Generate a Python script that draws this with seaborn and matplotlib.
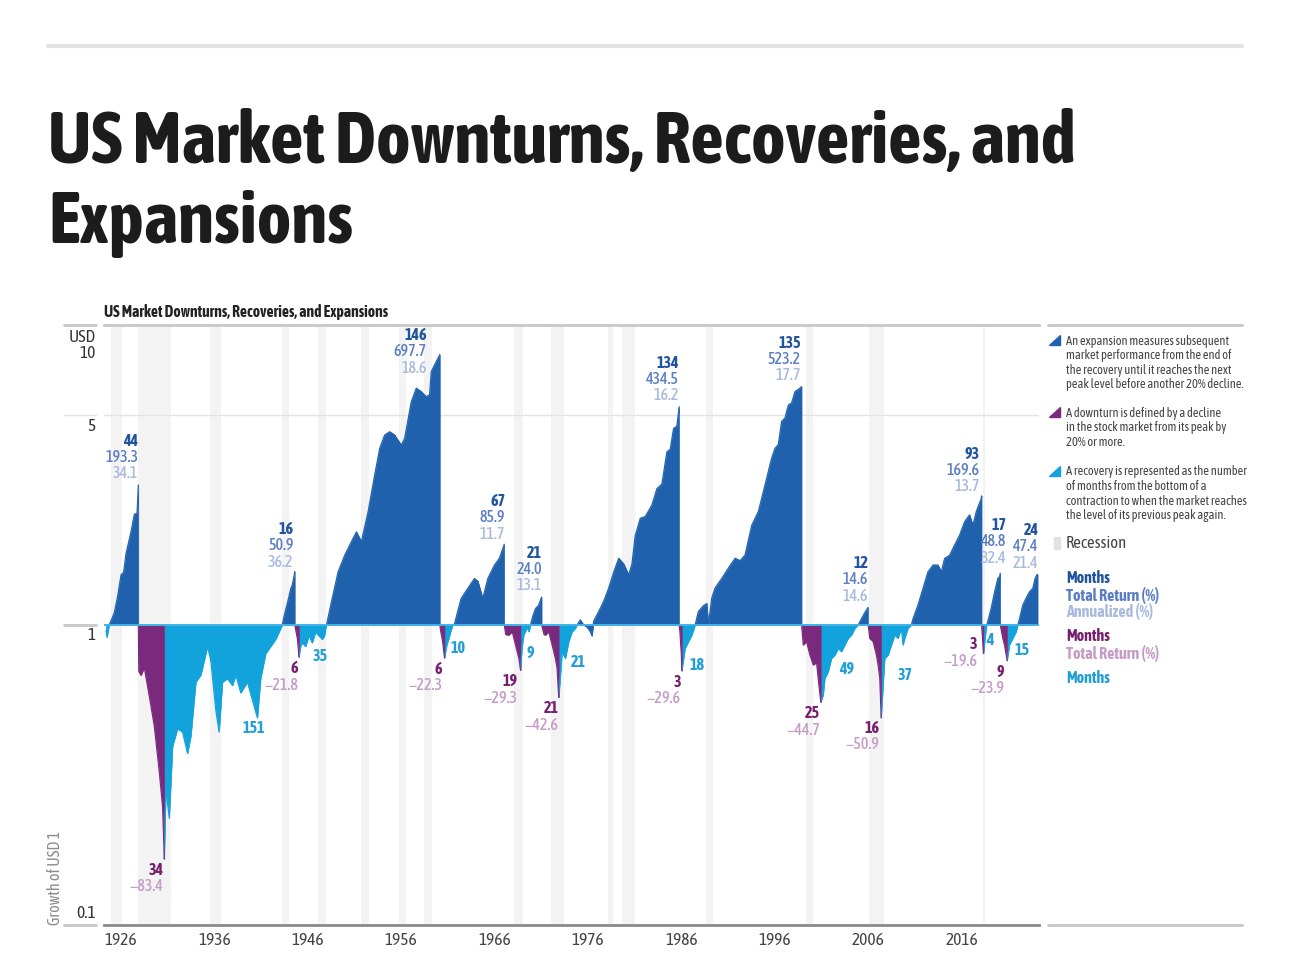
import matplotlib.pyplot as plt
import matplotlib.transforms as mtransforms
from matplotlib.patches import Polygon, Rectangle
import pandas as pd
import seaborn as sns

# ---- phases: year, growth of USD 1 inside the phase ----
r0_x = [1926.2, 1926.32, 1926.55]
r0_y = [0.96, 0.91, 1.0]
e1_x = [1926.55, 1927.1, 1927.46, 1927.82, 1928.1, 1928.35, 1928.88, 1929.24, 1929.53, 1929.6, 1929.67]
e1_y = [1.0, 1.10, 1.25, 1.47, 1.50, 1.73, 2.04, 2.34, 2.36, 2.6, 2.933]
d1_x = [1929.67, 1929.72, 1929.95, 1930.31, 1930.84, 1931.38, 1931.91, 1932.27, 1932.45]
d1_y = [1.0, 0.70, 0.68, 0.72, 0.58, 0.46, 0.325, 0.247, 0.166]
r1_x = [1932.45, 1932.62, 1932.98, 1933.34, 1933.87, 1934.4, 1934.94, 1935.3, 1935.83, 1936.36,
        1937.08, 1937.43, 1937.97, 1938.32, 1938.68, 1939.21, 1939.75, 1940.1, 1940.64, 1941.35,
        1941.88, 1942.42, 1942.77, 1943.31, 1943.84, 1944.38, 1944.91, 1945.08]
r1_y = [0.166, 0.283, 0.227, 0.394, 0.451, 0.44, 0.373, 0.427, 0.645, 0.681,
        0.848, 0.76, 0.518, 0.44, 0.645, 0.663, 0.628, 0.681, 0.594, 0.645,
        0.562, 0.49, 0.663, 0.803, 0.848, 0.896, 0.973, 1.0]
e2_x = [1945.08, 1945.3, 1945.62, 1945.98, 1946.15, 1946.33, 1946.42]
e2_y = [1.0, 1.08, 1.18, 1.32, 1.36, 1.45, 1.509]
d2_x = [1946.42, 1946.5, 1946.7, 1946.87]
d2_y = [1.0, 0.97, 0.90, 0.782]
r2_x = [1946.87, 1947.05, 1947.23, 1947.58, 1947.94, 1948.29, 1948.65, 1949.0, 1949.36, 1949.6, 1949.72, 1949.81]
r2_y = [0.782, 0.85, 0.872, 0.848, 0.921, 0.872, 0.947, 0.921, 0.896, 0.92, 0.973, 1.0]
e3_x = [1949.81, 1950.35, 1951.06, 1951.77, 1952.48, 1953.02, 1953.55, 1954.27, 1954.97, 1955.51,
        1956.04, 1956.58, 1957.11, 1957.82, 1958.18, 1958.89, 1959.43, 1959.96, 1960.5, 1960.85,
        1961.03, 1961.38, 1961.74, 1961.95]
e3_y = [1.0, 1.196, 1.505, 1.71, 1.896, 2.045, 1.896, 2.387, 3.16, 3.88,
        4.30, 4.41, 4.30, 3.98, 4.19, 5.55, 6.16, 6.0, 5.77, 5.85,
        6.99, 7.36, 7.74, 7.977]
d3_x = [1961.95, 1962.05, 1962.25, 1962.45]
d3_y = [1.0, 0.95, 0.88, 0.777]
r3_x = [1962.45, 1962.7, 1962.9, 1963.1, 1963.35]
r3_y = [0.777, 0.86, 0.90, 0.95, 1.0]
e4_x = [1963.35, 1963.52, 1964.23, 1964.95, 1965.66, 1966.02, 1966.55, 1967.09, 1967.8, 1968.33, 1968.76, 1968.85]
e4_y = [1.0, 1.01, 1.227, 1.326, 1.43, 1.40, 1.227, 1.43, 1.585, 1.67, 1.824, 1.859]
d4_x = [1968.85, 1969.0, 1969.34, 1969.7, 1970.05, 1970.41, 1970.59]
d4_y = [1.0, 0.93, 0.926, 0.95, 0.858, 0.774, 0.707]
r4_x = [1970.59, 1970.75, 1970.94, 1971.1, 1971.3, 1971.5, 1971.65]
r4_y = [0.707, 0.84, 0.93, 0.95, 0.98, 0.95, 1.0]
e5_x = [1971.65, 1971.9, 1972.2, 1972.5, 1972.85]
e5_y = [1.0, 1.07, 1.137, 1.16, 1.24]
d5_x = [1972.85, 1973.1, 1973.26, 1973.61, 1973.97, 1974.32, 1974.5, 1974.68]
d5_y = [1.0, 0.93, 0.926, 0.95, 0.858, 0.774, 0.72, 0.574]
r5_x = [1974.68, 1974.86, 1975.04, 1975.39, 1975.75, 1976.11, 1976.46, 1976.64]
r5_y = [0.574, 0.68, 0.815, 0.774, 0.88, 0.95, 0.975, 1.0]
e6_x = [1976.64, 1976.99, 1977.35, 1977.71, 1978.06, 1978.24, 1978.42, 1978.96, 1979.49, 1980.03,
        1980.56, 1981.1, 1981.63, 1982.17, 1982.52, 1982.87, 1983.41, 1983.94, 1984.65, 1985.19,
        1985.72, 1986.26, 1986.61, 1986.97, 1987.32, 1987.57]
e6_y = [1.0, 1.04, 1.0, 0.985, 0.95, 0.92, 1.03, 1.11, 1.2, 1.33,
        1.5, 1.67, 1.6, 1.47, 1.6, 1.99, 2.27, 2.3, 2.51, 2.85,
        2.95, 3.78, 3.85, 4.52, 4.6, 5.345]
d6_x = [1987.57, 1987.65, 1987.8, 1987.86]
d6_y = [1.0, 0.95, 0.8, 0.704]
r6_x = [1987.86, 1988.21, 1988.57, 1988.93, 1989.28]
r6_y = [0.704, 0.836, 0.88, 0.926, 1.0]
e7_x = [1989.28, 1989.63, 1990.17, 1990.53, 1990.7, 1991.06, 1991.42, 1992.13, 1992.85, 1993.56,
        1994.09, 1994.62, 1995.34, 1996.05, 1996.76, 1997.47, 1997.83, 1998.19, 1998.54, 1998.9,
        1999.26, 1999.61, 1999.97, 2000.32, 2000.68]
e7_y = [1.0, 1.11, 1.16, 1.18, 1.0, 1.23, 1.33, 1.43, 1.55, 1.67,
        1.64, 1.71, 2.15, 2.39, 2.93, 3.6, 3.88, 4.0, 4.77, 4.9,
        5.41, 5.5, 6.0, 6.1, 6.232]
d7_x = [2000.68, 2000.86, 2001.21, 2001.57, 2001.93, 2002.28, 2002.53, 2002.74]
d7_y = [1.0, 0.858, 0.88, 0.794, 0.736, 0.75, 0.63, 0.553]
r7_x = [2002.74, 2002.99, 2003.17, 2003.53, 2003.88, 2004.24, 2004.6, 2004.95, 2005.31, 2005.67, 2006.02, 2006.38, 2006.74]
r7_y = [0.553, 0.584, 0.664, 0.699, 0.774, 0.794, 0.836, 0.815, 0.858, 0.903, 0.926, 0.975, 1.0]
e8_x = [2006.74, 2007.09, 2007.45, 2007.8]
e8_y = [1.0, 1.05, 1.10, 1.146]
d8_x = [2007.8, 2007.98, 2008.34, 2008.69, 2008.87, 2009.05, 2009.2]
d8_y = [1.0, 0.903, 0.88, 0.794, 0.736, 0.664, 0.491]
r8_x = [2009.2, 2009.4, 2009.58, 2009.94, 2010.29, 2010.65, 2011.0, 2011.36, 2011.54, 2011.72, 2012.07, 2012.43]
r8_y = [0.491, 0.63, 0.774, 0.794, 0.858, 0.926, 0.903, 0.975, 0.858, 0.903, 0.975, 1.0]
e9_x = [2012.43, 2012.61, 2013.14, 2013.68, 2014.21, 2014.75, 2015.28, 2015.64, 2015.99, 2016.53,
        2017.06, 2017.6, 2018.13, 2018.67, 2019.02, 2019.38, 2019.91, 2019.95]
e9_y = [1.0, 1.05, 1.166, 1.326, 1.505, 1.585, 1.585, 1.505, 1.668, 1.71,
        1.848, 1.995, 2.21, 2.33, 2.15, 2.39, 2.64, 2.696]
d9_x = [2019.95, 2020.05, 2020.15]
d9_y = [1.0, 0.9, 0.804]
r9_x = [2020.15, 2020.35, 2020.5]
r9_y = [0.804, 0.92, 1.0]
e10_x = [2020.5, 2020.69, 2020.98, 2021.34, 2021.69, 2021.87, 2021.95]
e10_y = [1.0, 1.05, 1.14, 1.29, 1.43, 1.45, 1.488]
d10_x = [2021.95, 2022.22, 2022.4, 2022.69]
d10_y = [1.0, 0.903, 0.858, 0.761]
r10_x = [2022.69, 2022.93, 2023.29, 2023.65, 2023.83]
r10_y = [0.761, 0.858, 0.903, 0.95, 1.0]
e11_x = [2023.83, 2024.01, 2024.36, 2024.72, 2025.07, 2025.43, 2025.68, 2025.89, 2025.95]
e11_y = [1.0, 1.05, 1.166, 1.23, 1.29, 1.326, 1.43, 1.474, 1.474]

# label values
exp_months = [44, 16, 146, 67, 21, 134, 135, 12, 93, 17, 24]
exp_total = ["193.3", "50.9", "697.7", "85.9", "24.0", "434.5", "523.2", "14.6", "169.6", "48.8", "47.4"]
exp_annual = ["34.1", "36.2", "18.6", "11.7", "13.1", "16.2", "17.7", "14.6", "13.7", "32.4", "21.4"]
down_months = [34, 6, 6, 19, 21, 3, 25, 16, 3, 9]
down_total = ["83.4", "21.8", "22.3", "29.3", "42.6", "29.6", "44.7", "50.9", "19.6", "23.9"]
rec_months = [151, 35, 10, 9, 21, 18, 49, 37, 4, 15]

# recessions (start, end)
rec_start = [1926.75, 1929.6, 1937.4, 1945.1, 1948.9, 1953.5, 1957.6, 1960.3, 1969.9, 1973.9,
             1980.0, 1981.5, 1990.5, 2001.2, 2007.9, 2020.1]
rec_end = [1927.9, 1933.2, 1938.5, 1945.8, 1949.8, 1954.4, 1958.3, 1961.1, 1970.9, 1975.2,
           1980.5, 1982.9, 1991.2, 2001.9, 2009.5, 2020.3]

years = [1926, 1936, 1946, 1956, 1966, 1976, 1986, 1996, 2006, 2016]

expansions = [(e1_x, e1_y), (e2_x, e2_y), (e3_x, e3_y), (e4_x, e4_y), (e5_x, e5_y), (e6_x, e6_y),
              (e7_x, e7_y), (e8_x, e8_y), (e9_x, e9_y), (e10_x, e10_y), (e11_x, e11_y)]
downturns = [(d1_x, d1_y), (d2_x, d2_y), (d3_x, d3_y), (d4_x, d4_y), (d5_x, d5_y), (d6_x, d6_y),
             (d7_x, d7_y), (d8_x, d8_y), (d9_x, d9_y), (d10_x, d10_y)]
recoveries = [(r1_x, r1_y), (r2_x, r2_y), (r3_x, r3_y), (r4_x, r4_y), (r5_x, r5_y), (r6_x, r6_y),
              (r7_x, r7_y), (r8_x, r8_y), (r9_x, r9_y), (r10_x, r10_y)]

# label placement tweaks (pixels)
exp_dx = [0, -1, -13, 1, 0, 0, -1, 0, -2, 6, 1]
exp_dy = [11, 9, -14, 10, 11, 11, 11, 11, 9, 15, 11]
down_dx = [-1, -1, -2, -3, 0, -1, -1, -2, -6, -3]
down_dy = [-11, -11, -11, -11, -11, -11, -11, -10, 9, -11]
rec_dx = [-28, -6, 5, 0, 1, 2, -12, -6, 3, 4]
rec_dy = [-103, -31, -23, -28, -37, -40, -44, -50, -15, -25]

C_EXP, C_DOWN, C_REC = "#1f61ad", "#7a2a7d", "#12a3dd"
C_EXP1, C_EXP2, C_EXP3 = "#21549f", "#5b7ec3", "#a9badf"
C_DOWN1, C_DOWN2 = "#76216f", "#c59bc7"
C_REC1 = "#229fd7"

sns.set_theme(style="white")
plt.rcParams["font.family"] = ["Asap Condensed", "DejaVu Sans"]

W, H = 1290, 968
fig = plt.figure(figsize=(W / 100, H / 100), dpi=100)
ax = fig.add_axes([104 / W, 1 - 925 / H, 935 / W, 600 / H])
ax.set_yscale("log")

for s, e in zip(rec_start, rec_end):
    ax.axvspan(s, e, color="#f3f3f3", lw=0, zorder=0)
ax.axhline(5, color="#e4e4e4", lw=1, zorder=0.5)

rows = []
groups = [("rec", [(r0_x, r0_y)] + recoveries, C_REC), ("exp", expansions, C_EXP), ("down", downturns, C_DOWN)]
pid = 0
for kind, phases, col in groups:
    for xs, ys in phases:
        ax.fill_between(xs, 1, ys, color=col, lw=0.4, edgecolor=col, zorder=2)
        for x, y in zip(xs, ys):
            rows.append({"phase": pid, "kind": kind, "year": x, "value": y})
        pid += 1
df = pd.DataFrame(rows)
sns.lineplot(data=df, x="year", y="value", hue="kind", units="phase", estimator=None, sort=False,
             palette={"rec": C_REC, "exp": C_EXP, "down": C_DOWN}, lw=0.8, legend=False, ax=ax, zorder=2.5)
ax.axhline(1, color="#3fb3e6", lw=1.4, zorder=3)

ax.set_xlim(1926.2, 2026.1)
ax.set_ylim(0.1, 10)
ax.set_xlabel("")
ax.set_ylabel("")
ax.set_yticks([])
ax.minorticks_off()
ax.set_yticks([], minor=True)
for sp in ["left", "right"]:
    ax.spines[sp].set_visible(False)
ax.spines["top"].set_color("#c8c8c8")
ax.spines["top"].set_linewidth(2)
ax.spines["bottom"].set_color("#8a8a8a")
ax.spines["bottom"].set_linewidth(2)
ax.set_xticks(years)
ax.set_xticklabels([str(y) for y in years])
ax.tick_params(axis="x", length=0, pad=5, labelsize=12.5, labelcolor="#444444")
shift = mtransforms.ScaledTranslation(0.17, 0, fig.dpi_scale_trans)
for lab in ax.get_xticklabels():
    lab.set_transform(lab.get_transform() + shift)

# left value labels and short rules
ytr = ax.get_yaxis_transform()
for v, col in [(10, "#c8c8c8"), (5, "#e4e4e4"), (1, "#c8c8c8"), (0.1, "#c8c8c8")]:
    ax.plot([-0.043, -0.009], [v, v], color=col, lw=2 if col == "#c8c8c8" else 1,
            transform=ytr, clip_on=False)
for txt, v, dy in [("USD", 10, -13), ("10", 10, -29), ("5", 5, -11), ("1", 1, -11), ("0.1", 0.1, 12)]:
    ax.annotate(txt, xy=(-0.009, v), xycoords=ytr, xytext=(0, dy), textcoords="offset pixels",
                ha="right", va="center", fontsize=12.5, color="#333333")
fig.text(55 / W, 1 - 925 / H, "Growth of USD 1", rotation=90, ha="center", va="bottom",
         fontsize=11.5, color="#8a8a8a")

# phase labels
for (xs, ys), m, t, a, dx, dy in zip(expansions, exp_months, exp_total, exp_annual, exp_dx, exp_dy):
    for k, (txt, col, wt) in enumerate([(a, C_EXP3, "medium"), (t, C_EXP2, "medium"), (str(m), C_EXP1, "bold")]):
        ax.annotate(txt, xy=(xs[-1], ys[-1]), xytext=(dx, dy + 16.5 * k), textcoords="offset pixels",
                    ha="right", va="center", fontsize=11.5, color=col, weight=wt, zorder=5)
for (xs, ys), m, t, dx, dy in zip(downturns, down_months, down_total, down_dx, down_dy):
    ax.annotate(str(m), xy=(xs[-1], ys[-1]), xytext=(dx, dy), textcoords="offset pixels",
                ha="right", va="center", fontsize=11.5, color=C_DOWN1, weight="bold", zorder=5)
    ax.annotate("\u2212" + t, xy=(xs[-1], ys[-1]), xytext=(dx, dy - 17), textcoords="offset pixels",
                ha="right", va="center", fontsize=11.5, color=C_DOWN2, weight="medium", zorder=5)
for (xs, ys), m, dx, dy in zip(recoveries, rec_months, rec_dx, rec_dy):
    ax.annotate(str(m), xy=(xs[-1], ys[-1]), xytext=(dx, dy), textcoords="offset pixels",
                ha="center", va="center", fontsize=11.5, color=C_REC1, weight="bold", zorder=5)

# header
def fp(x, y):
    return x / W, 1 - y / H

fig.add_artist(plt.Line2D([48 / W, 1242 / W], [1 - 46 / H] * 2, color="#e3e3e3", lw=3))
fig.text(*fp(48, 163), "US Market Downturns, Recoveries, and", fontsize=53, weight="bold",
         color="#1c1c1c", va="baseline")
fig.text(*fp(48, 243), "Expansions", fontsize=53, weight="bold", color="#1c1c1c", va="baseline")
fig.text(*fp(104, 312), "US Market Downturns, Recoveries, and Expansions", fontsize=11.2,
         weight="bold", color="#222222", va="center")

# right-hand key
fig.add_artist(plt.Line2D([1048 / W, 1242 / W], [1 - 325 / H] * 2, color="#c8c8c8", lw=2))
fig.add_artist(plt.Line2D([1048 / W, 1242 / W], [1 - 925 / H] * 2, color="#c8c8c8", lw=2))
for col, ytop in [(C_EXP, 335), (C_DOWN, 407), (C_REC, 466)]:
    fig.add_artist(Polygon([fp(1049, ytop + 10), fp(1060, ytop + 10), fp(1060, ytop)],
                           closed=True, color=col, transform=fig.transFigure))
fig.add_artist(Rectangle(fp(1054, 549), 6 / W, 12 / H, color="#e2e2e2", transform=fig.transFigure))
notes = [
    (341, ["An expansion measures subsequent", "market performance from the end of",
           "the recovery until it reaches the next", "peak level before another 20% decline."]),
    (413, ["A downturn is defined by a decline", "in the stock market from its peak by", "20% or more."]),
    (472, ["A recovery is represented as the number", "of months from the bottom of a",
           "contraction to when the market reaches", "the level of its previous peak again."]),
]
for y0, lines in notes:
    for i, ln in enumerate(lines):
        fig.text(*fp(1066, y0 + 14.6 * i), ln, fontsize=9.0, color="#444444", va="center")
fig.text(*fp(1066, 543), "Recession", fontsize=12, color="#444444", va="center")
for y, txt, col in [(578, "Months", C_EXP1), (595, "Total Return (%)", C_EXP2), (612, "Annualized (%)", C_EXP3),
                    (636, "Months", C_DOWN1), (653, "Total Return (%)", C_DOWN2), (678, "Months", C_REC1)]:
    fig.text(*fp(1066, y), txt, fontsize=11.5, weight="bold", color=col, va="center")

fig.savefig("out.png", dpi=100, facecolor="white")
